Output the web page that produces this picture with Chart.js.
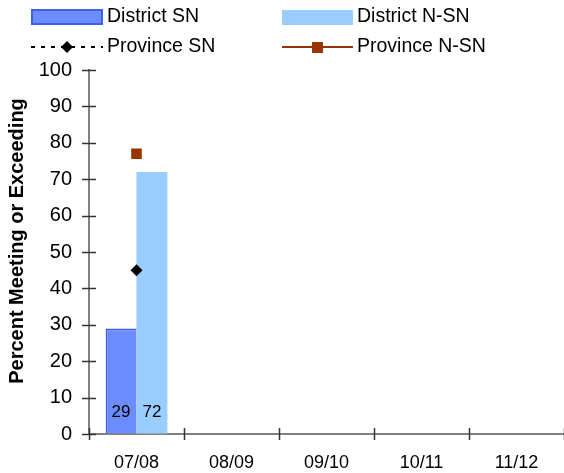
<!DOCTYPE html>
<html>
<head>
<meta charset="utf-8">
<script src="https://cdn.jsdelivr.net/npm/chart.js"></script>
<style>
  body { margin: 0; background: #fff; }
  #wrap { width: 564px; height: 473px; position: relative; }
</style>
</head>
<body>
<div id="wrap"><canvas id="myChart" width="564" height="473"></canvas></div>
<script>
// datos
const years = ['07/08', '08/09', '09/10', '10/11', '11/12'];
const districtSN = [29, null, null, null, null];
const districtNSN = [72, null, null, null, null];
const provinceSN = [45, null, null, null, null];
const provinceNSN = [77, null, null, null, null];
const yTicks = [0, 10, 20, 30, 40, 50, 60, 70, 80, 90, 100];
const yTitle = 'Percent Meeting or Exceeding';

const FONT = '"Liberation Sans", Arial, sans-serif';

/* plugin que dibuja leyenda, marcas de los ejes, titulo y etiquetas */
const extras = {
    id: 'extras',
    afterDraw(chart) {
        const ctx = chart.ctx;
        const x = chart.scales.x;
        const y = chart.scales.y;
        ctx.save();

        // marcas cruzadas del eje y
        ctx.strokeStyle = '#333';
        ctx.lineWidth = 1.5;
        yTicks.forEach((v) => {
            const py = Math.round(y.getPixelForValue(v)) + 0.5;
            ctx.beginPath();
            ctx.moveTo(x.left - 7, py);
            ctx.lineTo(x.left + 7, py);
            ctx.stroke();
        });
        // marcas del eje x en los limites de cada categoria
        const w = x.width / years.length;
        for (let i = 0; i <= years.length; i++) {
            const px = Math.round(x.left + i * w) + 0.5;
            ctx.beginPath();
            ctx.moveTo(px, y.bottom - 6);
            ctx.lineTo(px, y.bottom + 6);
            ctx.stroke();
        }

        // etiquetas dentro de las barras
        ctx.fillStyle = '#000';
        ctx.font = '17px ' + FONT;
        ctx.textAlign = 'center';
        ctx.textBaseline = 'middle';
        [0, 1].forEach((d) => {
            const meta = chart.getDatasetMeta(d);
            meta.data.forEach((el, i) => {
                const v = chart.data.datasets[d].data[i];
                if (v === null) return;
                ctx.fillText(String(v), el.x, el.base - 21);
            });
        });

        // titulo del eje y
        ctx.save();
        ctx.translate(17, 241);
        ctx.rotate(-Math.PI / 2);
        ctx.font = 'bold 20px ' + FONT;
        ctx.fillText(yTitle, 0, 0);
        ctx.restore();

        // leyenda
        const ds = chart.data.datasets;
        ctx.font = '19.5px ' + FONT;
        ctx.textAlign = 'left';
        // District SN
        ctx.fillStyle = ds[0].backgroundColor;
        ctx.fillRect(32, 10, 70, 14);
        ctx.strokeStyle = ds[0].borderColor;
        ctx.lineWidth = 2;
        ctx.strokeRect(32, 10, 70, 14);
        ctx.fillStyle = '#000';
        ctx.fillText(ds[0].label, 107, 17);
        // District N-SN
        ctx.fillStyle = ds[1].backgroundColor;
        ctx.fillRect(282, 10, 71, 15);
        ctx.fillStyle = '#000';
        ctx.fillText(ds[1].label, 357, 17);
        // Province SN
        ctx.strokeStyle = ds[2].borderColor;
        ctx.lineWidth = 2;
        ctx.setLineDash([4, 6]);
        ctx.beginPath();
        ctx.moveTo(31, 47);
        ctx.lineTo(103, 47);
        ctx.stroke();
        ctx.setLineDash([]);
        ctx.fillStyle = ds[2].pointBackgroundColor;
        ctx.beginPath();
        ctx.moveTo(61, 47);
        ctx.lineTo(67, 41);
        ctx.lineTo(73, 47);
        ctx.lineTo(67, 53);
        ctx.closePath();
        ctx.fill();
        ctx.fillStyle = '#000';
        ctx.fillText(ds[2].label, 107, 47);
        // Province N-SN
        ctx.strokeStyle = ds[3].borderColor;
        ctx.lineWidth = 2;
        ctx.beginPath();
        ctx.moveTo(282, 47);
        ctx.lineTo(353, 47);
        ctx.stroke();
        ctx.fillStyle = ds[3].pointBackgroundColor;
        ctx.fillRect(312, 42, 11, 11);
        ctx.fillStyle = '#000';
        ctx.fillText(ds[3].label, 357, 47);

        ctx.restore();
    }
};

const ctx = document.getElementById('myChart');
const myChart = new Chart(ctx, {
    type: 'bar',
    data: {
        labels: years,
        datasets: [{
            label: 'District SN',
            data: districtSN,
            backgroundColor: '#6A8CFF',
            borderColor: '#3F5FEA',
            borderWidth: { top: 2, left: 2, right: 0, bottom: 0 },
            borderSkipped: false,
            categoryPercentage: 0.65,
            barPercentage: 1,
            order: 2
        }, {
            label: 'District N-SN',
            data: districtNSN,
            backgroundColor: '#99CCFF',
            borderWidth: 0,
            categoryPercentage: 0.65,
            barPercentage: 1,
            order: 2
        }, {
            type: 'line',
            label: 'Province SN',
            data: provinceSN,
            borderColor: '#000',
            borderDash: [4, 6],
            pointStyle: 'rectRot',
            pointRadius: 6,
            pointBackgroundColor: '#000',
            pointBorderWidth: 0,
            order: 1
        }, {
            type: 'line',
            label: 'Province N-SN',
            data: provinceNSN,
            borderColor: '#993300',
            pointStyle: 'rect',
            pointRadius: 7.5,
            pointBackgroundColor: '#993300',
            pointBorderWidth: 0,
            order: 1
        }]
    },
    options: {
        responsive: false,
        animation: false,
        layout: { autoPadding: false, padding: { top: 70, left: 0, right: 0, bottom: 0 } },
        plugins: {
            legend: { display: false },
            tooltip: { enabled: false }
        },
        scales: {
            x: {
                offset: true,
                grid: { display: true, drawOnChartArea: false, drawTicks: false },
                border: { color: '#808080', width: 2 },
                ticks: { color: '#000', font: { family: FONT, size: 18 }, padding: 18, maxRotation: 0 },
                afterFit: (scale) => { scale.height = 39; }
            },
            y: {
                min: 0,
                max: 100,
                grid: { display: true, drawOnChartArea: false, drawTicks: false },
                border: { color: '#808080', width: 2 },
                ticks: { stepSize: 10, color: '#000', font: { family: FONT, size: 20 }, padding: 17 },
                afterFit: (scale) => { scale.width = 89; }
            }
        }
    },
    plugins: [extras]
});
</script>
</body>
</html>
